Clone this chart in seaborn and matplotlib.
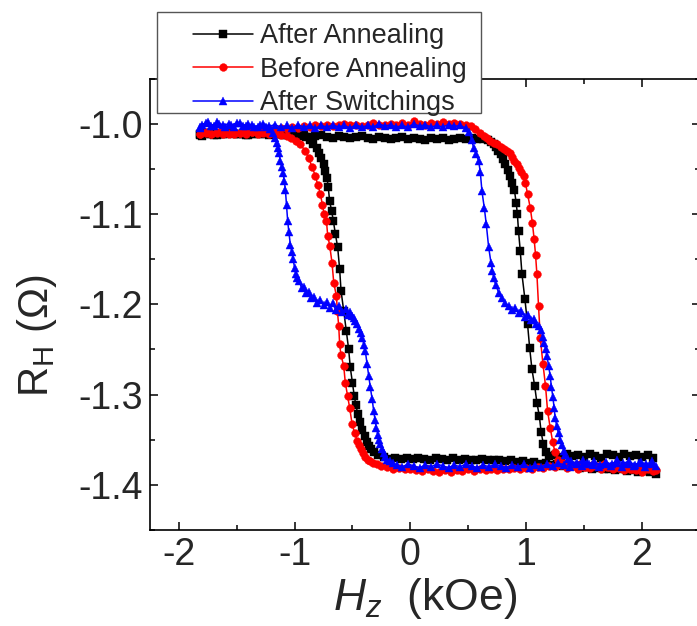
import matplotlib
matplotlib.use("Agg")
import matplotlib.pyplot as plt
from matplotlib.patches import Rectangle
from matplotlib.ticker import FixedLocator, MultipleLocator, FormatStrFormatter
import numpy as np
import pandas as pd
import seaborn as sns

# ---------------- data: Hall resistance loops R_H(H_z) ----------------
# Each loop = upward field sweep followed by the downward sweep.

# After Annealing
ann_up_h = [-1.82, -1.77, -1.72, -1.67, -1.62, -1.57, -1.52, -1.47, -1.42, -1.37, -1.32, -1.27,
            -1.22, -1.17, -1.12, -1.07, -1.02, -0.97, -0.92, -0.87, -0.82, -0.77, -0.72, -0.67,
            -0.62, -0.57, -0.52, -0.47, -0.42, -0.37, -0.32, -0.27, -0.22, -0.17, -0.12, -0.07,
            -0.02, 0.03, 0.08, 0.13, 0.18, 0.23, 0.28, 0.33, 0.38, 0.43, 0.48, 0.53, 0.58, 0.63,
            0.67, 0.70, 0.72, 0.74, 0.76, 0.78, 0.80, 0.82, 0.84, 0.86, 0.88, 0.90, 0.915, 0.925,
            0.935, 0.95, 0.965, 0.99, 1.013, 1.031, 1.051, 1.074, 1.094, 1.115, 1.131, 1.150,
            1.172, 1.20, 1.25, 1.30, 1.35, 1.40, 1.45, 1.50, 1.55, 1.60, 1.65, 1.70, 1.75, 1.80,
            1.85, 1.90, 1.95, 2.00, 2.05, 2.10]
ann_up_r = [-1.012, -1.010, -1.011, -1.013, -1.011, -1.010, -1.012, -1.011, -1.013, -1.012, -1.010, -1.012,
            -1.013, -1.011, -1.012, -1.013, -1.012, -1.014, -1.013, -1.015, -1.014, -1.013, -1.015, -1.016,
            -1.014, -1.015, -1.016, -1.015, -1.014, -1.016, -1.017, -1.015, -1.016, -1.017, -1.016, -1.015,
            -1.017, -1.016, -1.017, -1.018, -1.016, -1.017, -1.016, -1.018, -1.017, -1.016, -1.017, -1.016,
            -1.017, -1.017, -1.018, -1.020, -1.022, -1.026, -1.030, -1.034, -1.039, -1.045, -1.051, -1.058,
            -1.066, -1.074, -1.088, -1.100, -1.119, -1.141, -1.167, -1.194, -1.222, -1.248, -1.272, -1.290,
            -1.309, -1.324, -1.342, -1.355, -1.364, -1.368, -1.367, -1.369, -1.366, -1.368, -1.367, -1.369,
            -1.366, -1.368, -1.370, -1.366, -1.367, -1.369, -1.366, -1.368, -1.367, -1.369, -1.367, -1.370]
ann_dn_h = [2.12, 2.07, 2.02, 1.97, 1.92, 1.87, 1.82, 1.77, 1.72, 1.67, 1.62, 1.57, 1.52, 1.47, 1.42,
            1.37, 1.32, 1.27, 1.22, 1.17, 1.12, 1.07, 1.02, 0.97, 0.92, 0.87, 0.82, 0.77, 0.72, 0.67,
            0.62, 0.57, 0.52, 0.47, 0.42, 0.37, 0.32, 0.27, 0.22, 0.17, 0.12, 0.07, 0.02, -0.03, -0.08,
            -0.13, -0.18, -0.23, -0.28, -0.317, -0.34, -0.36, -0.374, -0.395, -0.417, -0.437, -0.455,
            -0.47, -0.484, -0.50, -0.519, -0.533, -0.553, -0.576, -0.599, -0.611, -0.628, -0.648, -0.665,
            -0.68, -0.697, -0.71, -0.72, -0.735, -0.75, -0.77, -0.79, -0.81, -0.84, -0.87, -0.90, -0.95,
            -1.00, -1.05, -1.10, -1.15, -1.20, -1.25, -1.30, -1.35, -1.40, -1.45, -1.50, -1.55, -1.60,
            -1.65, -1.70, -1.75, -1.80, -1.82]
ann_dn_r = [-1.388, -1.386, -1.385, -1.386, -1.384, -1.385, -1.383, -1.384, -1.382, -1.383, -1.381, -1.382,
            -1.380, -1.381, -1.379, -1.378, -1.379, -1.377, -1.378, -1.376, -1.377, -1.375, -1.376, -1.374,
            -1.375, -1.373, -1.374, -1.372, -1.373, -1.372, -1.371, -1.373, -1.372, -1.371, -1.372, -1.370,
            -1.372, -1.371, -1.370, -1.372, -1.371, -1.370, -1.371, -1.370, -1.371, -1.370, -1.371, -1.369,
            -1.367, -1.364, -1.360, -1.357, -1.352, -1.346, -1.339, -1.330, -1.321, -1.312, -1.302, -1.287,
            -1.270, -1.250, -1.230, -1.207, -1.185, -1.161, -1.137, -1.122, -1.108, -1.097, -1.086, -1.070,
            -1.060, -1.052, -1.045, -1.038, -1.032, -1.027, -1.022, -1.018, -1.015, -1.013, -1.012, -1.011,
            -1.013, -1.011, -1.012, -1.010, -1.012, -1.011, -1.013, -1.011, -1.012, -1.010, -1.012, -1.011,
            -1.013, -1.012, -1.014, -1.013]

# Before Annealing
pre_up_h = [-1.82, -1.77, -1.72, -1.67, -1.62, -1.57, -1.52, -1.47, -1.42, -1.37, -1.32, -1.27,
            -1.22, -1.17, -1.12, -1.07, -1.02, -0.97, -0.92, -0.87, -0.82, -0.77, -0.72, -0.67,
            -0.62, -0.57, -0.52, -0.47, -0.42, -0.37, -0.32, -0.27, -0.22, -0.17, -0.12, -0.07,
            -0.02, 0.03, 0.08, 0.13, 0.18, 0.23, 0.28, 0.33, 0.38, 0.43, 0.48, 0.52, 0.56, 0.60,
            0.633, 0.66, 0.69, 0.72, 0.75, 0.78, 0.81, 0.835, 0.86, 0.88, 0.90, 0.921, 0.94, 0.96,
            0.979, 0.995, 1.013, 1.036, 1.055, 1.07, 1.082, 1.094, 1.108, 1.123, 1.146, 1.168, 1.186,
            1.209, 1.23, 1.25, 1.28, 1.32, 1.37, 1.42, 1.47, 1.52, 1.57, 1.62, 1.67, 1.72, 1.77, 1.82,
            1.87, 1.92, 1.97, 2.02, 2.07, 2.12]
pre_up_r = [-1.011, -1.009, -1.012, -1.010, -1.008, -1.011, -1.009, -1.010, -1.008, -1.009, -1.007, -1.008,
            -1.006, -1.007, -1.005, -1.006, -1.004, -1.005, -1.003, -1.004, -1.002, -1.003, -1.001, -1.003,
            -1.002, -1.000, -1.002, -1.001, -1.003, -1.001, -0.999, -1.002, -1.001, -1.000, -1.002, -0.999,
            -1.001, -0.997, -1.000, -1.001, -0.999, -1.000, -0.998, -1.000, -0.999, -1.000, -1.001, -1.003,
            -1.006, -1.010, -1.014, -1.016, -1.019, -1.021, -1.023, -1.026, -1.028, -1.030, -1.033, -1.037,
            -1.041, -1.045, -1.049, -1.053, -1.058, -1.066, -1.078, -1.093, -1.110, -1.128, -1.145, -1.167,
            -1.202, -1.237, -1.266, -1.290, -1.318, -1.337, -1.352, -1.364, -1.372, -1.376, -1.377, -1.379,
            -1.377, -1.380, -1.378, -1.379, -1.377, -1.380, -1.378, -1.381, -1.379, -1.382, -1.380, -1.383,
            -1.381, -1.384]
pre_dn_h = [2.10, 2.05, 2.00, 1.95, 1.90, 1.85, 1.80, 1.75, 1.70, 1.65, 1.60, 1.55, 1.50, 1.45, 1.40,
            1.35, 1.30, 1.25, 1.20, 1.15, 1.10, 1.05, 1.00, 0.95, 0.90, 0.85, 0.80, 0.75, 0.70, 0.65,
            0.60, 0.55, 0.50, 0.45, 0.40, 0.35, 0.30, 0.25, 0.20, 0.15, 0.10, 0.05, 0.00, -0.05, -0.10,
            -0.15, -0.20, -0.25, -0.288, -0.32, -0.35, -0.37, -0.389, -0.41, -0.43, -0.445, -0.46, -0.48,
            -0.503, -0.524, -0.542, -0.562, -0.576, -0.60, -0.611, -0.619, -0.63, -0.639, -0.662, -0.677,
            -0.697, -0.714, -0.725, -0.745, -0.76, -0.777, -0.80, -0.82, -0.85, -0.878, -0.91, -0.95,
            -0.99, -1.03, -1.07, -1.12, -1.17, -1.22, -1.27, -1.32, -1.37, -1.42, -1.47, -1.52, -1.57,
            -1.62, -1.67, -1.72, -1.77, -1.82]
pre_dn_r = [-1.385, -1.383, -1.386, -1.384, -1.382, -1.384, -1.381, -1.383, -1.380, -1.382, -1.379, -1.381,
            -1.380, -1.382, -1.379, -1.381, -1.378, -1.380, -1.379, -1.381, -1.380, -1.382, -1.381, -1.383,
            -1.381, -1.383, -1.382, -1.384, -1.382, -1.384, -1.383, -1.385, -1.383, -1.385, -1.384, -1.386,
            -1.384, -1.386, -1.385, -1.383, -1.385, -1.384, -1.382, -1.383, -1.381, -1.382, -1.380, -1.379,
            -1.377, -1.376, -1.374, -1.372, -1.369, -1.365, -1.360, -1.356, -1.351, -1.343, -1.333, -1.315,
            -1.302, -1.287, -1.268, -1.256, -1.244, -1.224, -1.208, -1.191, -1.176, -1.154, -1.135, -1.124,
            -1.108, -1.100, -1.090, -1.078, -1.068, -1.058, -1.048, -1.038, -1.030, -1.023, -1.019, -1.016,
            -1.014, -1.013, -1.011, -1.012, -1.010, -1.011, -1.009, -1.011, -1.010, -1.012, -1.010, -1.011,
            -1.009, -1.011, -1.010, -1.012]

# After Switchings
sw_up_h = [-1.82, -1.77, -1.72, -1.67, -1.62, -1.57, -1.52, -1.47, -1.42, -1.37, -1.32, -1.27,
           -1.22, -1.17, -1.12, -1.07, -1.02, -0.97, -0.92, -0.87, -0.82, -0.77, -0.72, -0.67,
           -0.62, -0.57, -0.52, -0.47, -0.42, -0.37, -0.32, -0.27, -0.22, -0.17, -0.12, -0.07,
           -0.02, 0.03, 0.08, 0.13, 0.18, 0.23, 0.28, 0.33, 0.38, 0.43, 0.48, 0.51, 0.53, 0.547,
           0.57, 0.59, 0.605, 0.619, 0.639, 0.656, 0.677, 0.697, 0.71, 0.72, 0.74, 0.763, 0.79,
           0.821, 0.85, 0.88, 0.907, 0.935, 0.96, 0.993, 1.02, 1.045, 1.065, 1.09, 1.11, 1.13,
           1.145, 1.157, 1.17, 1.18, 1.195, 1.209, 1.22, 1.232, 1.243, 1.252, 1.265, 1.281, 1.295,
           1.31, 1.325, 1.338, 1.36, 1.39, 1.44, 1.49, 1.54, 1.59, 1.64, 1.69, 1.74, 1.79, 1.84,
           1.89, 1.94, 1.99, 2.04, 2.09, 2.12]
sw_up_r = [-1.004, -0.999, -1.003, -0.998, -1.002, -1.000, -1.004, -0.999, -1.003, -1.001, -1.004, -1.000,
           -1.003, -1.001, -1.004, -1.002, -1.005, -1.001, -1.004, -1.002, -1.005, -1.002, -1.004, -1.001,
           -1.004, -1.002, -1.005, -1.001, -1.004, -1.002, -1.004, -1.000, -1.003, -1.001, -1.004, -1.002,
           -1.004, -1.000, -1.003, -1.001, -1.004, -1.002, -1.004, -1.001, -1.003, -1.002, -1.005, -1.009,
           -1.018, -1.027, -1.034, -1.041, -1.054, -1.075, -1.093, -1.111, -1.137, -1.154, -1.163, -1.171,
           -1.179, -1.187, -1.193, -1.199, -1.202, -1.206, -1.204, -1.210, -1.208, -1.214, -1.212, -1.217,
           -1.216, -1.222, -1.224, -1.229, -1.236, -1.243, -1.250, -1.257, -1.268, -1.280, -1.292, -1.303,
           -1.315, -1.326, -1.335, -1.343, -1.350, -1.356, -1.362, -1.367, -1.371, -1.374, -1.376, -1.373,
           -1.377, -1.374, -1.378, -1.375, -1.377, -1.373, -1.376, -1.374, -1.378, -1.375, -1.377, -1.374,
           -1.379]
sw_dn_h = [2.08, 2.03, 1.98, 1.93, 1.88, 1.83, 1.78, 1.73, 1.68, 1.63, 1.58, 1.53, 1.48, 1.43, 1.38,
           1.33, 1.28, 1.23, 1.18, 1.13, 1.08, 1.03, 0.98, 0.93, 0.88, 0.83, 0.78, 0.73, 0.68, 0.63,
           0.58, 0.53, 0.48, 0.43, 0.38, 0.33, 0.28, 0.23, 0.18, 0.13, 0.08, 0.03, -0.02, -0.07, -0.115,
           -0.15, -0.18, -0.20, -0.216, -0.23, -0.245, -0.259, -0.27, -0.28, -0.294, -0.305, -0.317,
           -0.33, -0.346, -0.36, -0.374, -0.389, -0.40, -0.417, -0.43, -0.445, -0.46, -0.475, -0.49,
           -0.505, -0.518, -0.54, -0.56, -0.59, -0.619, -0.645, -0.67, -0.695, -0.72, -0.75, -0.78,
           -0.81, -0.835, -0.86, -0.88, -0.90, -0.921, -0.94, -0.96, -0.979, -0.99, -1.00, -1.013,
           -1.025, -1.037, -1.05, -1.06, -1.07, -1.08, -1.09, -1.10, -1.112, -1.123, -1.135, -1.145,
           -1.155, -1.166, -1.185, -1.21, -1.25, -1.30, -1.35, -1.40, -1.45, -1.50, -1.55, -1.60,
           -1.65, -1.70, -1.75, -1.80, -1.82]
sw_dn_r = [-1.377, -1.380, -1.376, -1.379, -1.377, -1.380, -1.376, -1.379, -1.377, -1.380, -1.378, -1.376,
           -1.379, -1.377, -1.380, -1.378, -1.376, -1.379, -1.377, -1.380, -1.378, -1.381, -1.377, -1.380,
           -1.378, -1.381, -1.379, -1.377, -1.380, -1.378, -1.381, -1.379, -1.377, -1.380, -1.378, -1.381,
           -1.379, -1.377, -1.380, -1.378, -1.381, -1.379, -1.377, -1.380, -1.378, -1.376, -1.374, -1.372,
           -1.369, -1.365, -1.360, -1.355, -1.350, -1.345, -1.337, -1.328, -1.318, -1.305, -1.292, -1.279,
           -1.266, -1.252, -1.245, -1.237, -1.232, -1.227, -1.222, -1.218, -1.215, -1.213, -1.209, -1.212,
           -1.205, -1.209, -1.202, -1.206, -1.199, -1.204, -1.198, -1.201, -1.195, -1.199, -1.192, -1.193,
           -1.186, -1.188, -1.181, -1.182, -1.174, -1.171, -1.166, -1.160, -1.150, -1.142, -1.134, -1.120,
           -1.108, -1.090, -1.073, -1.063, -1.055, -1.048, -1.041, -1.033, -1.027, -1.021, -1.016, -1.010,
           -1.006, -1.004, -1.001, -1.004, -1.000, -1.003, -0.999, -1.002, -1.004, -1.000, -1.003, -0.998,
           -1.002, -1.005]

series_names = ["After Annealing", "Before Annealing", "After Switchings"]
series_colors = ["#000000", "#FF0000", "#0000FF"]
series_markers = ["s", "o", "^"]

x_ticks = [-2, -1, 0, 1, 2]
y_ticks = [-1.4, -1.3, -1.2, -1.1, -1.0]

loops = [
    (ann_up_h + ann_dn_h, ann_up_r + ann_dn_r),
    (pre_up_h + pre_dn_h, pre_up_r + pre_dn_r),
    (sw_up_h + sw_dn_h, sw_up_r + sw_dn_r),
]

# ---------------- styling ----------------
sns.set_theme(style="ticks")
plt.rcParams["font.family"] = ["Liberation Sans", "DejaVu Sans"]
plt.rcParams["mathtext.fontset"] = "custom"
plt.rcParams["mathtext.rm"] = "Liberation Sans"
plt.rcParams["mathtext.it"] = "Liberation Sans:italic"
plt.rcParams["axes.unicode_minus"] = False

fig = plt.figure(figsize=(6.97, 6.26), dpi=100)
fig.patch.set_facecolor("white")
ax = fig.add_axes([150 / 697, 1 - 530 / 626, 549.6 / 697, 451.5 / 626])
ax.set_facecolor("white")

for (h, r), name, col, mk in zip(loops, series_names, series_colors, series_markers):
    df = pd.DataFrame({"H": h, "R": r})
    sns.lineplot(data=df, x="H", y="R", sort=False, estimator=None, ax=ax,
                 color=col, marker=mk, markersize=5.6 if mk != "^" else 6.2,
                 markeredgewidth=0.3, markeredgecolor=col, linewidth=1.1,
                 label=name)

leg = ax.get_legend()
if leg is not None:
    leg.remove()

ax.set_xlim(-2.25, 2.5)
ax.set_ylim(-1.45, -0.95)

ax.xaxis.set_major_locator(FixedLocator(x_ticks))
ax.xaxis.set_major_formatter(FormatStrFormatter("%d"))
ax.xaxis.set_minor_locator(MultipleLocator(0.5))
ax.yaxis.set_major_locator(FixedLocator(y_ticks))
ax.yaxis.set_major_formatter(FormatStrFormatter("%.1f"))
ax.yaxis.set_minor_locator(MultipleLocator(0.05))

ax.tick_params(which="both", direction="in", top=True, right=True, width=1.1, color="black")
ax.tick_params(which="major", length=5.8, labelsize=27, pad=5)
ax.tick_params(which="minor", length=3.6)
for sp in ax.spines.values():
    sp.set_visible(True)
    sp.set_linewidth(1.2)
    sp.set_color("black")

ax.set_xlabel("$H_z$  (kOe)", fontsize=32, labelpad=2)
ax.set_ylabel("R$_\\mathrm{H}$ (Ω)", fontsize=30)
ax.yaxis.set_label_coords(-0.165, 0.43)

# legend box straddling the top of the frame
frame = Rectangle((157 / 697, 1 - 113 / 626), (481 - 157) / 697, (113 - 12) / 626,
                  transform=fig.transFigure, facecolor="white", edgecolor="#555555",
                  linewidth=1.0, zorder=4)
fig.add_artist(frame)
handles, labels = ax.get_legend_handles_labels()
fig.legend(handles, labels, loc="upper left", bbox_to_anchor=(193 / 697, 1 - 23 / 626),
           frameon=False, fontsize=19.5, handlelength=2.2, handletextpad=0.27,
           labelspacing=0.28, borderpad=0, borderaxespad=0, markerscale=1.0)

fig.savefig("out.png", dpi=100, facecolor="white")
